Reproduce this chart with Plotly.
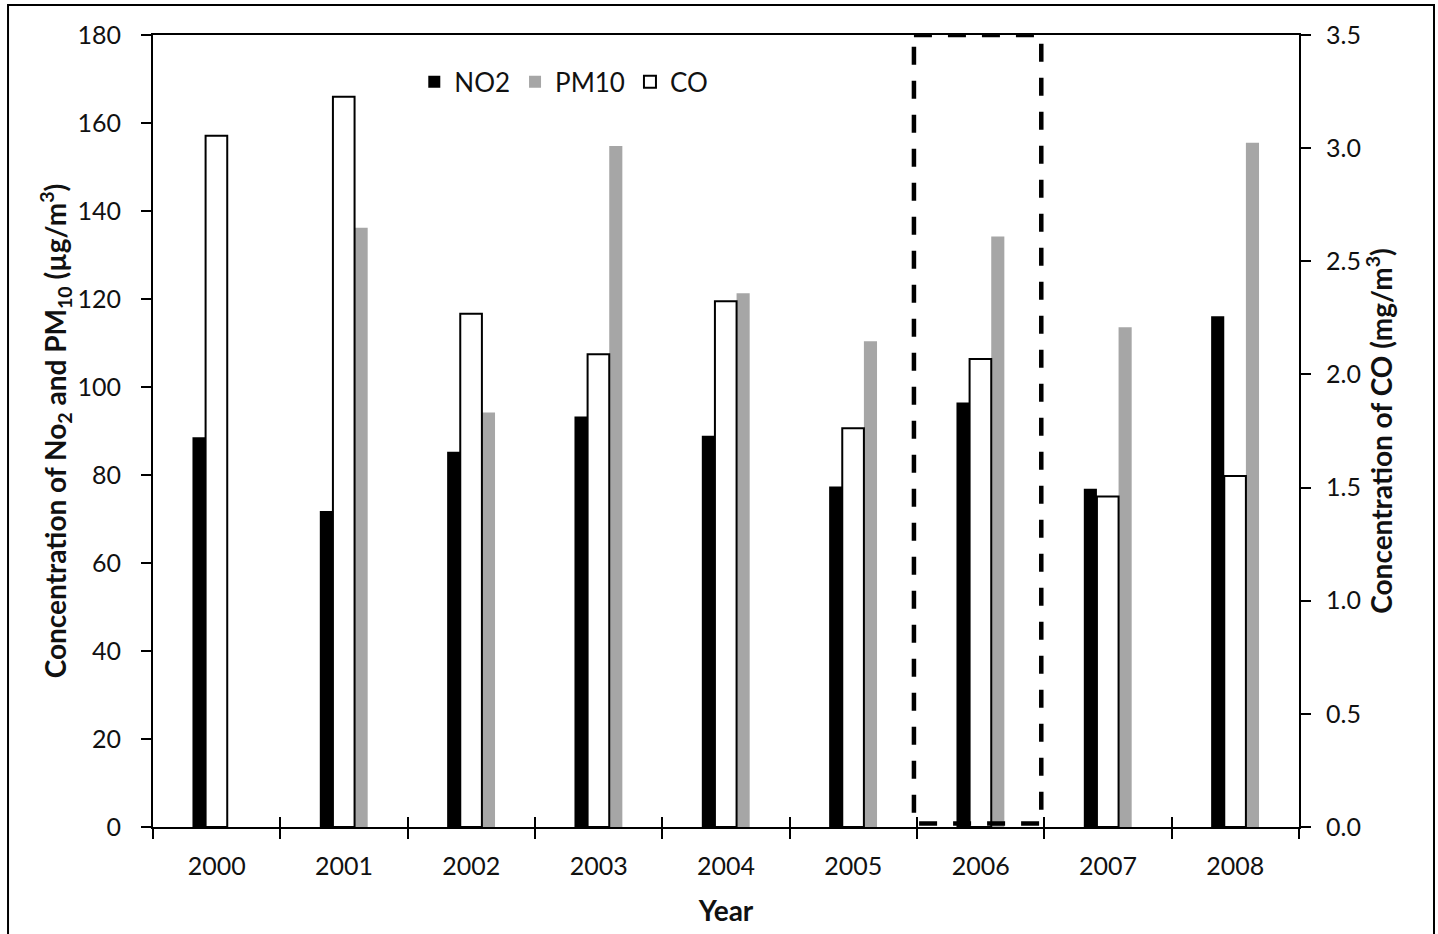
import plotly.graph_objects as go

# Annual mean concentrations
years = ["2000", "2001", "2002", "2003", "2004", "2005", "2006", "2007", "2008"]
no2 = [88.6, 71.8, 85.3, 93.3, 88.9, 77.4, 96.5, 76.9, 116.1]          # µg/m3
pm10 = [None, 136.2, 94.2, 154.8, 121.3, 110.4, 134.2, 113.6, 155.5]   # µg/m3
co = [3.055, 3.227, 2.268, 2.089, 2.323, 1.762, 2.068, 1.461, 1.551]   # mg/m3

left_ticks = list(range(0, 181, 20))
right_ticks = [0.0, 0.5, 1.0, 1.5, 2.0, 2.5, 3.0, 3.5]
highlight_year = "2006"

FONT = "Lato, 'Open Sans', sans-serif"
GRAY = "#a6a6a6"

fig = go.Figure()

fig.add_trace(go.Bar(
    x=years, y=no2, name="NO2", yaxis="y", xaxis="x",
    offset=-0.19, width=0.103,
    marker=dict(color="black", line=dict(width=0)),
))
fig.add_trace(go.Bar(
    x=years, y=pm10, name="PM10", yaxis="y", xaxis="x",
    offset=0.083, width=0.103,
    marker=dict(color=GRAY, line=dict(width=0)),
))
fig.add_trace(go.Bar(
    x=years, y=co, name="CO", yaxis="y2", xaxis="x",
    offset=-0.087, width=0.17,
    marker=dict(color="white", line=dict(color="black", width=2)),
))

n = len(years)
boundaries = [i - 0.5 for i in range(n + 1)]
hi = years.index(highlight_year)

# dashed frame around the highlighted year, drawn as a closed outline
fx0, fx1 = hi - 0.5 - 0.024, hi + 0.5 - 0.024
fy0, fy1 = 0.8, 180
fig.add_trace(go.Scatter(
    x=[fx0, fx1, fx1, fx0, fx0], y=[fy1, fy1, fy0, fy0, fy1],
    xaxis="x2", yaxis="y", mode="lines",
    line=dict(color="black", width=4.5, dash="18px,16px"),
    showlegend=False, hoverinfo="skip",
))

axis_font = dict(family=FONT, size=25, color="#111111")
title_font = dict(family=FONT, size=28, color="#111111", weight="bold")

fig.update_layout(
    width=1438, height=934,
    margin=dict(l=153, r=139, t=35, b=107),
    paper_bgcolor="white", plot_bgcolor="white",
    barmode="overlay",
    font=dict(family=FONT, color="#111111"),
    showlegend=True,
    legend=dict(
        orientation="h", x=0.228, y=0.941, xanchor="left", yanchor="middle",
        font=dict(family=FONT, size=26, color="#111111"),
        bgcolor="rgba(0,0,0,0)", traceorder="normal",
        itemwidth=30,
    ),
    xaxis=dict(
        type="category", range=[-0.5, n - 0.5],
        tickson="boundaries", ticks="outside", ticklen=10, tickwidth=2,
        tickcolor="black",
        showline=True, linecolor="black", linewidth=2, mirror=True,
        showgrid=False, zeroline=False,
        tickfont=axis_font, ticklabelstandoff=16,
        title=dict(text="Year", font=title_font, standoff=22),
    ),
    xaxis2=dict(
        overlaying="x", anchor="y", type="linear", range=[-0.5, n - 0.5],
        tickvals=boundaries, ticks="inside", ticklen=10, tickwidth=2,
        tickcolor="black", showticklabels=False, showline=False,
        showgrid=False, zeroline=False,
    ),
    yaxis=dict(
        range=[0, 180], tickvals=left_ticks,
        ticks="outside", ticklen=10, tickwidth=2, tickcolor="black",
        showline=True, linecolor="black", linewidth=2,
        showgrid=False, zeroline=False,
        tickfont=axis_font, ticklabelstandoff=15,
        title=dict(
            text="Concentration of No<sub>2</sub> and PM<sub>10</sub> (µg/m<sup>3</sup>)",
            font=title_font, standoff=3,
        ),
    ),
    yaxis2=dict(
        overlaying="y", side="right", anchor="x",
        range=[0, 3.5], tickvals=right_ticks, tickformat=".1f",
        ticks="outside", ticklen=10, tickwidth=2, tickcolor="black",
        showline=True, linecolor="black", linewidth=2,
        showgrid=False, zeroline=False,
        tickfont=axis_font, ticklabelstandoff=10,
        title=dict(
            text="Concentration of CO (mg/m<sup>3</sup>)",
            font=title_font, standoff=12,
        ),
    ),
    yaxis3=dict(
        overlaying="y", side="left", anchor="x",
        range=[0, 180], tickvals=left_ticks,
        ticks="inside", ticklen=10, tickwidth=2, tickcolor="black",
        showticklabels=False, showline=False, showgrid=False, zeroline=False,
    ),
    yaxis4=dict(
        overlaying="y", side="right", anchor="x",
        range=[0, 3.5], tickvals=right_ticks,
        ticks="inside", ticklen=10, tickwidth=2, tickcolor="black",
        showticklabels=False, showline=False, showgrid=False, zeroline=False,
    ),
    shapes=[
        # outer border of the figure
        dict(
            type="rect", xref="paper", yref="paper",
            x0=-0.1265, x1=1.1178, y0=-0.16, y1=1.038,
            line=dict(color="black", width=2),
            fillcolor="rgba(0,0,0,0)", layer="below",
        ),
    ],
)

fig.write_html("out.html")
